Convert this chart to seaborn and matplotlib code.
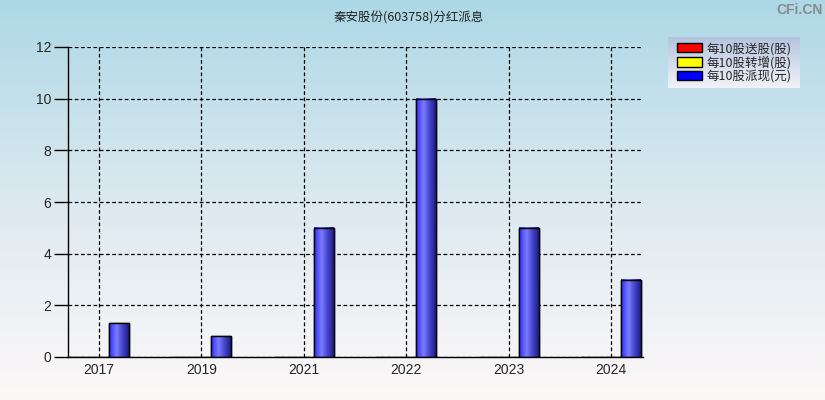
import numpy as np
import pandas as pd
import seaborn as sns
import matplotlib.pyplot as plt
from matplotlib.colors import LinearSegmentedColormap
from matplotlib.patches import Patch

# data
years = ['2017', '2019', '2021', '2022', '2023', '2024']
song_gu = [0, 0, 0, 0, 0, 0]          # 每10股送股(股)
zhuan_zeng = [0, 0, 0, 0, 0, 0]       # 每10股转增(股)
pai_xian = [1.3, 0.8, 5, 10, 5, 3]    # 每10股派现(元)
series_names = ['每10股送股(股)', '每10股转增(股)', '每10股派现(元)']
series_colors = ['#FF0000', '#FFFF00', '#0000FF']
yticks = [0, 2, 4, 6, 8, 10, 12]

df = pd.DataFrame({
    'year': years * 3,
    'value': song_gu + zhuan_zeng + pai_xian,
    'series': [series_names[0]] * 6 + [series_names[1]] * 6 + [series_names[2]] * 6,
})

sns.set_style('white')
plt.rcParams['font.family'] = ['Noto Sans CJK SC', 'DejaVu Sans']

fig = plt.figure(figsize=(8.25, 4), dpi=100)

# background gradient over the whole figure
bg = fig.add_axes([0, 0, 1, 1], zorder=-10)
grad = np.linspace(0, 1, 256).reshape(-1, 1)
bg_cmap = LinearSegmentedColormap.from_list('bg', ['#ADD8E6', '#DCE9F0', '#FDF8F8'])
bg.imshow(grad, aspect='auto', cmap=bg_cmap, extent=[0, 1, 0, 1])
bg.axis('off')

ax = fig.add_axes([68 / 825, 1 - 357 / 400, 575 / 825, 310 / 400])
ax.patch.set_alpha(0)

sns.barplot(data=df, x='year', y='value', hue='series', palette=series_colors,
            width=0.585, edgecolor='black', linewidth=1, saturation=1,
            legend=False, ax=ax)

# cylinder-like shading on the blue bars
bar_cmap = LinearSegmentedColormap.from_list(
    'bar', [(0, '#2C2CFF'), (0.38, '#7C7CFF'), (0.65, '#4A4AD0'), (1, '#1C1C88')])
for p in ax.patches:
    if p.get_facecolor()[:3] == (0.0, 0.0, 1.0) and p.get_height() > 0:
        x0, y0 = p.get_x(), p.get_y()
        w, h = p.get_width(), p.get_height()
        ax.imshow(np.linspace(0, 1, 64).reshape(1, -1), cmap=bar_cmap, aspect='auto',
                  extent=[x0, x0 + w, y0, y0 + h], zorder=p.get_zorder() + 0.1)
        ax.add_patch(plt.Rectangle((x0, y0), w, h, fill=False, edgecolor='black',
                                   linewidth=1, zorder=p.get_zorder() + 0.2))
ax.set_xlim(-0.30, 5.31)
ax.set_ylim(0, 12)

ax.set_yticks(yticks)
ax.grid(True, color='black', linestyle=(0, (3, 2)), linewidth=0.9)
ax.set_axisbelow(True)
for s in ['top', 'right']:
    ax.spines[s].set_visible(False)
for s in ['left', 'bottom']:
    ax.spines[s].set_color('black')
    ax.spines[s].set_linewidth(1)
ax.tick_params(axis='y', direction='out', length=10, width=1, color='black',
               labelsize=10, pad=2, left=True)
ax.tick_params(axis='x', length=0, labelsize=10, pad=4)
for lab in ax.get_xticklabels() + ax.get_yticklabels():
    lab.set_family('Liberation Sans')
ax.set_xlabel('')
ax.set_ylabel('')

fig.text(0.495, 1 - 18 / 400, '秦安股份(603758)分红派息', ha='center', va='center',
         fontsize=9, color='#222222')
fig.text(0.997, 1 - 10 / 400, 'CFi.CN', ha='right', va='center', fontsize=10,
         fontweight='bold', color='#8A8A8A', family='Liberation Sans')

# legend box with gradient
lg_ax = fig.add_axes([668 / 825, 1 - 88 / 400, 132 / 825, 51 / 400], zorder=5)
lg_cmap = LinearSegmentedColormap.from_list('lg', ['#B4C4DE', '#F2F2F8'])
lg_ax.imshow(grad, aspect='auto', cmap=lg_cmap, extent=[0, 1, 0, 1])
lg_ax.axis('off')
handles = [Patch(facecolor=c, edgecolor='black', linewidth=1) for c in series_colors]
lg_ax.legend(handles, series_names, loc='center', frameon=False, fontsize=9,
             handlelength=2.0, handleheight=0.8, handletextpad=0.4,
             labelspacing=0.05, borderaxespad=0, borderpad=0)

fig.savefig('out.png', dpi=100)
